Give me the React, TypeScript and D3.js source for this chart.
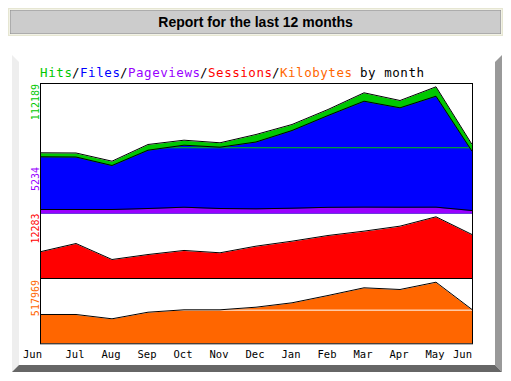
import React from "react";
import * as d3 from "d3";

const months = ["Jun", "Jul", "Aug", "Sep", "Oct", "Nov", "Dec", "Jan", "Feb", "Mar", "Apr", "May", "Jun"];
const hits = [53520, 53340, 46050, 60900, 64720, 62410, 69790, 78680, 92010, 106860, 100010, 112189, 60900];
const files = [49960, 49780, 42230, 55830, 60270, 58500, 63120, 73340, 86680, 99390, 93520, 103840, 54940];
const pageviews = [3110, 3110, 3110, 4000, 5150, 4000, 3700, 4270, 5050, 5234, 5150, 5200, 2220];
const sessions = [5200, 6880, 3640, 4650, 5470, 5000, 6340, 7350, 8500, 9380, 10390, 12283, 8700];
const kbytes = [241900, 241900, 205100, 261500, 282000, 282000, 304300, 341900, 404300, 470100, 455600, 517969, 284600];

const legendParts = [
  { text: "Hits", color: "#00C800" },
  { text: "/", color: "#000000" },
  { text: "Files", color: "#0000FF" },
  { text: "/", color: "#000000" },
  { text: "Pageviews", color: "#9900FF" },
  { text: "/", color: "#000000" },
  { text: "Sessions", color: "#FF0000" },
  { text: "/", color: "#000000" },
  { text: "Kilobytes", color: "#FF6600" },
  { text: " by month", color: "#000000" },
];

const C = {
  hits: "#00C800",
  files: "#0000FF",
  pages: "#9900FF",
  sessions: "#FF0000",
  kbytes: "#FF6600",
};

export default function App() {
  const L = 40, R = 472;
  const hitsTop = 83, hitsBase = 213.5;
  const sessBase = 278, kbBase = 343.3;

  const x = d3.scaleLinear().domain([0, months.length - 1]).range([L, R]);
  const maxHits = d3.max(hits)!;
  const yHits = d3.scaleLinear().domain([0, maxHits]).range([hitsBase, 87.3]);
  const ySess = d3.scaleLinear().domain([0, d3.max(sessions)!]).range([sessBase, 217.3]);
  const yKb = d3.scaleLinear().domain([0, d3.max(kbytes)!]).range([kbBase, 282.7]);

  const mkArea = (vals: number[], y: d3.ScaleLinear<number, number>) =>
    d3.area<number>().x((_, i) => x(i)).y0(y(0)).y1((d) => y(d))(vals)!;
  const mkLine = (vals: number[], y: d3.ScaleLinear<number, number>) =>
    d3.line<number>().x((_, i) => x(i)).y((d) => y(d) - 0.5)(vals)!;

  const mono = "'DejaVu Sans Mono', monospace";
  const hitsMid = (hitsTop + hitsBase) / 2 - 0.5;
  const kbMid = (sessBase + kbBase) / 2 - 0.5;

  let cx = 40;
  const legend = legendParts.map((p, i) => {
    const el = (
      <text key={i} x={cx} y={76.5} fill={p.color} fontFamily={mono} fontSize={12.5} textLength={p.text.length * 8} lengthAdjust="spacing" style={{ whiteSpace: "pre" }}>
        {p.text}
      </text>
    );
    cx += p.text.length * 8;
    return el;
  });

  return (
    <svg width={511} height={381} style={{ position: "absolute", left: 0, top: 0 }}>
      <defs>
        <clipPath id="clipHits">
          <path d={mkArea(files, yHits)} />
        </clipPath>
        <clipPath id="clipKb">
          <path d={mkArea(kbytes, yKb)} />
        </clipPath>
      </defs>
      <rect width={511} height={381} fill="#ffffff" />
      {/* title bar */}
      <rect x={8} y={8} width={495} height={28} fill="#E6E6D2" />
      <rect x={10} y={10} width={491} height={24} fill="#CCCCCC" stroke="#8C8C8C" strokeWidth={1} />
      <rect x={9.5} y={9.5} width={492} height={25} fill="none" stroke="#F2F2E6" strokeWidth={1} />
      <text x={255.5} y={26.5} textAnchor="middle" fontFamily="'Liberation Sans', Arial, sans-serif" fontWeight="bold" fontSize={14} fill="#000">
        Report for the last 12 months
      </text>

      {/* bevel frame */}
      <polygon points="12,55 19,62 19,365 12,372" fill="#EEEEEE" />
      <polygon points="495,62 502,55 502,372 495,365" fill="#999999" />
      <polygon points="12,372 19,365 495,365 502,372" fill="#666666" />

      {legend}

      {/* hits panel */}
      <path d={mkArea(hits, yHits)} fill={C.hits} />
      <path d={mkLine(hits, yHits)} fill="none" stroke="#000" strokeWidth={1} />
      <path d={mkArea(files, yHits)} fill={C.files} />
      <line x1={L} x2={R} y1={hitsMid} y2={hitsMid} stroke={C.hits} strokeWidth={1} clipPath="url(#clipHits)" />
      <path d={mkLine(files, yHits)} fill="none" stroke="#000" strokeWidth={1} />
      <path d={mkArea(pageviews, yHits)} fill={C.pages} />
      <path d={mkLine(pageviews, yHits)} fill="none" stroke="#000" strokeWidth={1} />

      {/* sessions panel */}
      <path d={mkArea(sessions, ySess)} fill={C.sessions} />
      <path d={mkLine(sessions, ySess)} fill="none" stroke="#000" strokeWidth={1} />

      {/* kbytes panel */}
      <path d={mkArea(kbytes, yKb)} fill={C.kbytes} />
      <line x1={L} x2={R} y1={kbMid} y2={kbMid} stroke="#FFFFFF" strokeWidth={1} clipPath="url(#clipKb)" />
      <path d={mkLine(kbytes, yKb)} fill="none" stroke="#000" strokeWidth={1} />

      {/* frame lines */}
      <line x1={L + 0.5} x2={L + 0.5} y1={hitsTop} y2={kbBase + 0.5} stroke="#000" />
      <line x1={R + 0.5} x2={R + 0.5} y1={hitsTop} y2={kbBase + 0.5} stroke="#000" />
      <line x1={L} x2={R + 1} y1={hitsTop + 0.5} y2={hitsTop + 0.5} stroke="#000" />
      <line x1={L} x2={R + 1} y1={sessBase + 0.5} y2={sessBase + 0.5} stroke="#000" />
      <line x1={L} x2={R + 1} y1={kbBase + 0.5} y2={kbBase + 0.5} stroke="#000" />

      {/* left labels */}
      <text transform="translate(39,84) rotate(-90)" textAnchor="end" fontFamily={mono} fontSize={10} fill={C.hits}>{String(maxHits)}</text>
      <text transform="translate(39,167) rotate(-90)" textAnchor="end" fontFamily={mono} fontSize={10} fill={C.pages}>{String(d3.max(pageviews))}</text>
      <text transform="translate(39,213.5) rotate(-90)" textAnchor="end" fontFamily={mono} fontSize={10} fill={C.sessions}>{String(d3.max(sessions))}</text>
      <text transform="translate(39,280) rotate(-90)" textAnchor="end" fontFamily={mono} fontSize={10} fill={C.kbytes}>{String(d3.max(kbytes))}</text>

      {/* month labels */}
      {months.map((m, i) => {
        const last = i === months.length - 1;
        const first = i === 0;
        return (
          <text
            key={i}
            x={first ? x(i) + 2 : last ? x(i) : x(i) - 1}
            y={358}
            textAnchor={first || last ? "end" : "middle"}
            fontFamily={mono}
            fontSize={10.5}
            fill="#000"
          >
            {m}
          </text>
        );
      })}
    </svg>
  );
}
